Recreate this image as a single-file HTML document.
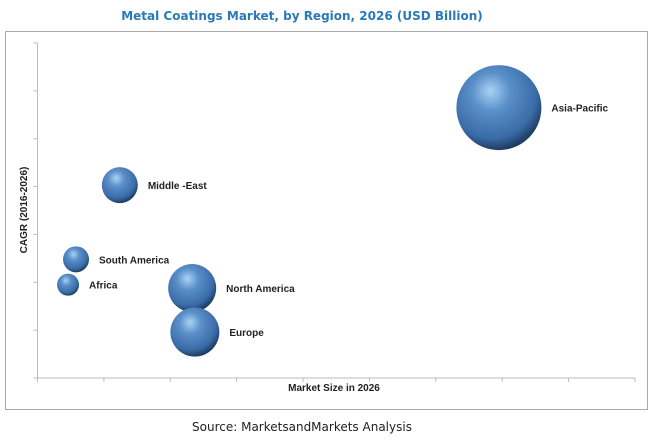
<!DOCTYPE html>
<html><head><meta charset="utf-8">
<style>
body{margin:0;background:#fff;width:650px;height:437px;overflow:hidden;font-family:"Liberation Sans",sans-serif}
</style></head>
<body>
<svg width="650" height="437" viewBox="0 0 650 437">
<defs>
<radialGradient id="g" cx="0.42" cy="0.35" r="0.65" fx="0.4" fy="0.3">
<stop offset="0" stop-color="#a9d3f5"/>
<stop offset="0.35" stop-color="#5b8fc9"/>
<stop offset="0.8" stop-color="#3a6ca8"/>
<stop offset="1" stop-color="#1f3d63"/>
</radialGradient>
</defs>
<text x="302" y="20" text-anchor="middle" font-size="12" font-weight="bold" fill="#2a7ab8" font-family="DejaVu Sans, sans-serif">Metal Coatings Market, by Region, 2026 (USD Billion)</text>
<rect x="5.5" y="31.5" width="642" height="378" fill="#fff" stroke="#aaa" stroke-width="1"/>
<g id="axes"></g>
<g id="marks"></g>
<text x="334" y="391" text-anchor="middle" font-size="10" font-weight="bold" fill="#222">Market Size in 2026</text>
<text transform="translate(27,210) rotate(-90)" text-anchor="middle" font-size="10" font-weight="bold" fill="#222">CAGR (2016-2026)</text>
<text x="302" y="431" text-anchor="middle" font-size="12" fill="#222" font-family="DejaVu Sans, sans-serif">Source: MarketsandMarkets Analysis</text>
</svg>
<script>
const regions=["Asia-Pacific","Middle -East","South America","Africa","North America","Europe"];
const marketSize=[6.95,1.24,0.58,0.46,2.33,2.37];
const cagr=[5.65,4.03,2.48,1.95,1.88,0.96];
const bubbleSize=[42.5,18,13,11,24,24.5];
const xTicks=[0,1,2,3,4,5,6,7,8,9];
const yTicks=[0,1,2,3,4,5,6,7];
const X0=37.5,X1=635,Y0=378,Y1=43;
const xs=v=>X0+(X1-X0)*v/9;
const ys=v=>Y0-(Y0-Y1)*v/7;
const NS="http://www.w3.org/2000/svg";
const ax=document.getElementById('axes'),mk=document.getElementById('marks');
function ln(x1,y1,x2,y2,p,name){const l=document.createElementNS(NS,'line');l.setAttribute('x1',x1);l.setAttribute('y1',y1);l.setAttribute('x2',x2);l.setAttribute('y2',y2);l.setAttribute('stroke','#bbb');l.setAttribute('stroke-width','1');


p.appendChild(l);}
ln(X0,Y1,X0,Y0,ax,'y-axis-line');
ln(X0,Y0,X1,Y0,ax,'x-axis-line');
xTicks.forEach(t=>ln(xs(t),Y0,xs(t),Y0+4,ax,'x-tick'));
yTicks.forEach(t=>ln(X0-4,ys(t),X0,ys(t),ax,'y-tick'));
regions.forEach((r,i)=>{
const cx=xs(marketSize[i]),cy=ys(cagr[i]),rad=bubbleSize[i];
const c=document.createElementNS(NS,'ellipse');
c.setAttribute('cx',cx);c.setAttribute('cy',cy);c.setAttribute('rx',rad);c.setAttribute('ry',rad);c.setAttribute('fill','url(#g)');


mk.appendChild(c);
const t=document.createElementNS(NS,'text');
t.setAttribute('x',cx+rad+10);t.setAttribute('y',cy+4);t.setAttribute('font-size','10');t.setAttribute('font-weight','bold');t.setAttribute('fill','#222');
t.textContent=r;


mk.appendChild(t);
});
</script>
</body></html>
